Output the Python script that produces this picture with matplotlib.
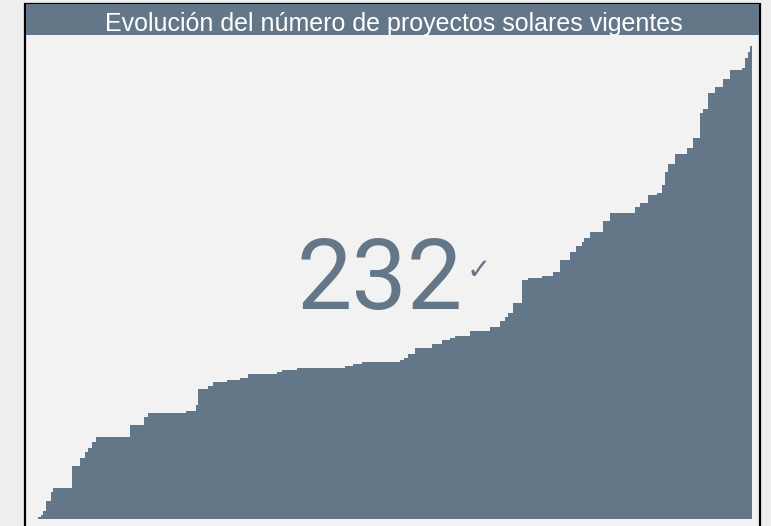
import matplotlib.pyplot as plt
from matplotlib.patches import Rectangle

# Días desde el primer proyecto y número acumulado de proyectos vigentes
dias = [0, 15, 25, 40, 65, 75, 170, 210, 235, 250, 270, 290, 460, 530, 550,
        740, 790, 800, 850, 875, 945, 1010, 1050, 1195, 1220, 1295, 1535, 1575,
        1620, 1810, 1830, 1850, 1885, 1970, 2020, 2060, 2085, 2160, 2260, 2310,
        2335, 2350, 2375, 2420, 2450, 2520, 2575, 2610, 2660, 2690, 2720, 2730,
        2760, 2825, 2860, 2985, 3010, 3050, 3095, 3120, 3135, 3150, 3185, 3245,
        3275, 3310, 3325, 3350, 3385, 3425, 3460, 3520, 3535, 3550, 3560, 3570]
proyectos = [1, 2, 4, 9, 13, 15, 26, 30, 33, 35, 38, 40, 46, 50, 52,
             53, 56, 64, 65, 67, 68, 69, 71, 72, 73, 74, 75, 76,
             77, 78, 79, 81, 84, 86, 88, 89, 90, 92, 94, 97,
             99, 101, 106, 117, 118, 119, 121, 127, 131, 134, 136, 138,
             141, 146, 150, 153, 155, 159, 160, 164, 170, 174, 179, 182,
             187, 199, 201, 209, 212, 216, 220, 221, 226, 229, 232, 232]

titulo = "Evolución del número de proyectos solares vigentes"
total = str(proyectos[-1])

slate = "#637789"
bg = "#f2f2f2"
W, H = 771, 526

fig = plt.figure(figsize=(W / 100, H / 100), dpi=100, facecolor="#eeeeee")

# card + title bar (behind the axes)
card = Rectangle((25 / W, -0.02), 735 / W, 1.02 - 4 / H, transform=fig.transFigure,
                 facecolor=bg, edgecolor="black", linewidth=1.6, zorder=-2)
fig.patches.append(card)
bar = Rectangle((26 / W, 1 - 35 / H), 733 / W, 31 / H, transform=fig.transFigure,
                facecolor=slate, edgecolor="none", zorder=-1)
fig.patches.append(bar)
fig.text(394 / W, 1 - 31 / H, titulo, color="white", fontsize=18,
         family="Liberation Sans", ha="center", va="baseline")

ax = fig.add_axes([38 / W, 7 / H, 714 / W, 473 / H])
ax.set_facecolor("none")
ax.fill_between(dias, proyectos, step="post", color=slate, linewidth=0)
ax.set_xlim(0, dias[-1])
ax.set_ylim(0, max(proyectos))
ax.axis("off")

fig.text(380 / W, 1 - 309 / H, total, color=slate, fontsize=71,
         family="Roboto", fontweight="normal", ha="center", va="baseline")
fig.text(479 / W, 1 - 271 / H, "✓", color=slate, fontsize=21,
         family="DejaVu Sans", ha="center", va="center")

fig.savefig("out.png", dpi=100, facecolor=fig.get_facecolor())
